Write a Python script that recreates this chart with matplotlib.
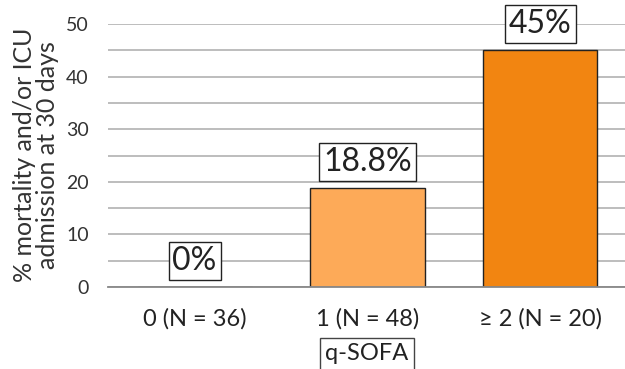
import matplotlib
matplotlib.use("Agg")
import matplotlib.pyplot as plt

plt.rcParams['font.family'] = ['Lato', 'DejaVu Sans']

categories = ["0 (N = 36)", "1 (N = 48)", "\u2265 2 (N = 20)"]
values = [0, 18.8, 45]
value_labels = ["0%", "18.8%", "45%"]
bar_colors = ["#FDAA58", "#FDAA58", "#F28511"]

fig = plt.figure(figsize=(6.25, 3.69), dpi=100)
ax = fig.add_axes([0.173, 0.222, 0.83, 0.713])

x = list(range(len(categories)))
ax.bar(x, values, width=0.66, color=bar_colors, edgecolor="#222222", linewidth=1.0, zorder=3)

ax.set_xlim(-0.5, 2.5)
ax.set_ylim(0, 50)
ax.set_yticks([0, 10, 20, 30, 40, 50])
ax.set_yticks([5, 15, 25, 35, 45], minor=True)
ax.grid(axis='y', which='both', color="#b8b8b8", linewidth=1.3, zorder=0)
ax.set_axisbelow(True)
for s in ["top", "right", "left"]:
    ax.spines[s].set_visible(False)
ax.spines["bottom"].set_color("#888888")
ax.spines["bottom"].set_linewidth(1.3)
ax.spines["bottom"].set_zorder(4)
ax.tick_params(axis='both', which='both', length=0)
ax.tick_params(axis='y', labelsize=14, colors="#333333", pad=14)
ax.tick_params(axis='x', labelsize=17, colors="#222222", pad=15)
ax.set_xticks(x)
ax.set_xticklabels(categories)

# axis title placed in figure coordinates, left of the tick labels
fig.text(36 / 625, 1 - 155 / 369, "% mortality and/or ICU\nadmission at 30 days",
         rotation=90, ha="center", va="center", fontsize=18, color="#333333",
         linespacing=1.0, multialignment="center")

for xi, v, lab in zip(x, values, value_labels):
    ax.annotate(lab, (xi, v), xytext=(0, 8), textcoords="offset points",
                ha="center", va="bottom", fontsize=23, color="#222222",
                bbox=dict(boxstyle="square,pad=0.12", facecolor="white",
                          edgecolor="#222222", linewidth=1.0), zorder=5)

fig.text(367 / 625, 1 - 354 / 369, "q-SOFA", ha="center", va="center",
         fontsize=17, color="#222222",
         bbox=dict(boxstyle="square,pad=0.22", facecolor="white",
                   edgecolor="#444444", linewidth=1.0))

fig.savefig("out.png", dpi=100)
